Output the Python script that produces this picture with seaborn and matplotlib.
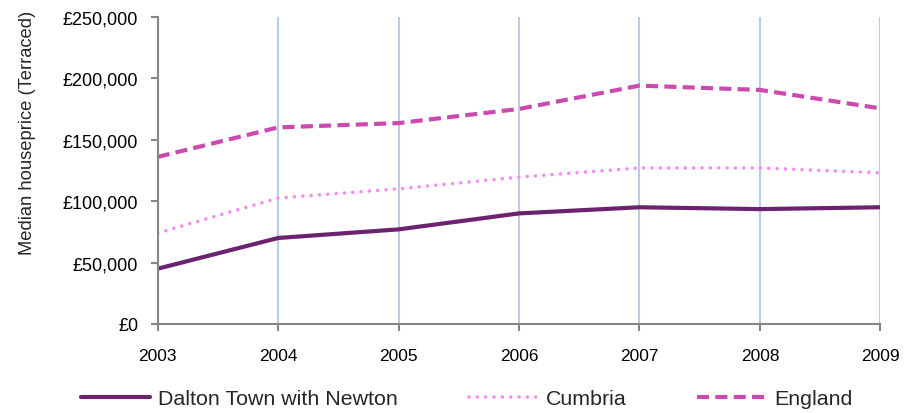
import pandas as pd
import numpy as np
import matplotlib.pyplot as plt
import seaborn as sns
from matplotlib.ticker import FuncFormatter

years = [2003, 2004, 2005, 2006, 2007, 2008, 2009]
dalton = [45000, 70000, 77000, 90000, 95000, 93500, 95000]
cumbria = [74000, 102500, 110000, 119500, 127000, 127000, 123000]
england = [136000, 160000, 163500, 175000, 194000, 190500, 175500]

series_names = ["Dalton Town with Newton", "Cumbria", "England"]
colors = ["#6B2370", "#F58FEF", "#CC4AB0"]

df = pd.DataFrame({"year": years * 3,
                   "price": dalton + cumbria + england,
                   "area": sum([[n] * len(years) for n in series_names], [])})

sns.set_style("white")
plt.rcParams['font.family'] = ['Liberation Sans', 'DejaVu Sans']

fig = plt.figure(figsize=(9.17, 4.14), dpi=100)
ax = fig.add_axes([0.172, 0.215, 0.788, 0.742])

# vertical grid lines
for yr in years[1:]:
    ax.axvline(yr, color="#B9CDE5", lw=1.5, zorder=0)

sns.lineplot(data=df, x="year", y="price", hue="area", style="area",
             palette=dict(zip(series_names, colors)),
             dashes={series_names[0]: "", series_names[1]: (0.01, 2.3), series_names[2]: (2.9, 1.5)},
             linewidth=3, ax=ax, legend=False)

lines = ax.get_lines()[-3:]
lines[1].set_linewidth(2.6)
lines[1].set_dash_capstyle("round")

ax.set_xlim(2003, 2009)
ax.set_ylim(0, 250000)
ax.set_xticks(years)
ax.set_yticks(np.arange(0, 250001, 50000))
ax.yaxis.set_major_formatter(FuncFormatter(lambda v, p: f"£{int(v):,}"))
ax.tick_params(axis="both", labelsize=13, colors="#868686", labelcolor="black",
               direction="out", length=5, width=1.5, bottom=True, left=True)
ax.tick_params(axis="y", pad=9)
ax.tick_params(axis="x", pad=12, labelsize=12.5)

for s in ["top", "right"]:
    ax.spines[s].set_visible(False)
for s in ["left", "bottom"]:
    ax.spines[s].set_color("#868686")
    ax.spines[s].set_linewidth(1.5)

ax.set_xlabel("")
ax.set_ylabel("Median houseprice (Terraced)", fontsize=13.2)
ax.yaxis.set_label_coords(-0.168, 0.625)

leg = fig.legend(lines, series_names, loc="lower center", bbox_to_anchor=(0.509, -0.035),
                 ncol=3, frameon=False, fontsize=15.4, handlelength=3.2,
                 columnspacing=3.3, handletextpad=0.4)

plt.savefig("out.png", dpi=100)
